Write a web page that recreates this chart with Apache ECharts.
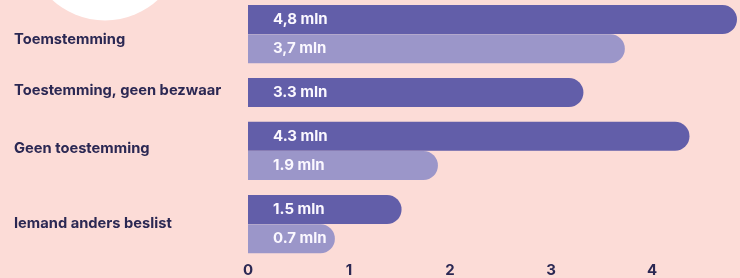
<!DOCTYPE html>
<html><head><meta charset="utf-8">
<script src="https://cdn.jsdelivr.net/npm/echarts@6/dist/echarts.min.js"></script>
<style>html,body{margin:0;padding:0;background:#fcdcd7;}#c{width:740px;height:278px;}</style>
</head><body><div id="c"></div>
<script>
// Data
const categories = ['Toemstemming', 'Toestemming, geen bezwaar', 'Geen toestemming', 'Iemand anders beslist'];
const darkValues = [4.84, 3.32, 4.37, 1.52];
const lightValues = [3.73, null, 1.88, 0.86];
const darkLabels = ['4,8 mln', '3.3 mln', '4.3 mln', '1.5 mln'];
const lightLabels = ['3,7 mln', null, '1.9 mln', '0.7 mln'];
const xTicks = [0, 1, 2, 3, 4];

// Layout: fine category slots so rows can be unevenly spaced
const SLOTS = 16;
const darkSlot = [0, 5, 8, 13];
const lightSlot = [2, null, 10, 15];
const labelSlot = [1, 5, 9, 14];
const labelStyle = ['dn', 'up', 'up', 'up2'];

const DARK = '#625ea9', LIGHT = '#9b96c9', INK = '#2b2853';
const slotNames = Array.from({length: SLOTS}, (_, i) => 's' + i);
const slotText = {};
categories.forEach((c, k) => { slotText[labelSlot[k]] = '{' + labelStyle[k] + '|' + c + '}'; });

const data = slotNames.map(() => '-');
categories.forEach((c, k) => {
  data[darkSlot[k]] = {value: darkValues[k], itemStyle: {color: DARK}, label: {formatter: darkLabels[k]}};
  if (lightValues[k] != null) data[lightSlot[k]] = {value: lightValues[k], itemStyle: {color: LIGHT}, label: {formatter: lightLabels[k]}};
});

const chart = echarts.init(document.getElementById('c'));
const lblFont = {fontFamily: 'Inter', fontWeight: 700, fontSize: 14.7, color: INK};
chart.setOption({
  backgroundColor: '#fcdcd7',
  animation: false,
  graphic: [{type: 'circle', shape: {cx: 105, cy: -57.5, r: 78}, style: {fill: '#ffffff'}, z: -1}],
  grid: {left: 248, top: 12.1, height: 236.5, right: 2},
  xAxis: {
    type: 'value', min: 0, max: 4.85, interval: 1,
    splitLine: {show: false}, axisLine: {show: false}, axisTick: {show: false},
    axisLabel: {margin: 17, fontFamily: 'Inter', fontWeight: 700, fontSize: 15, color: INK,
      showMaxLabel: false,
      formatter: v => xTicks.indexOf(v) >= 0 ? String(v) : ''}
  },
  yAxis: {
    type: 'category', inverse: true, data: slotNames,
    axisLine: {show: false}, axisTick: {show: false},
    axisLabel: {
      interval: 0, align: 'left', margin: 234,
      formatter: (v, i) => slotText[i] || '',
      rich: {
        dn: Object.assign({padding: [12, 0, 0, 0]}, lblFont),
        up: Object.assign({padding: [0, 0, 4, 0]}, lblFont),
        up2: Object.assign({padding: [0, 0, 1, 0]}, lblFont)
      }
    }
  },
  series: [{
    type: 'bar', data: data, barWidth: 29, clip: false,
    itemStyle: {borderRadius: [0, 15, 15, 0]},
    label: {show: true, position: 'insideLeft', distance: 25, color: '#fbf8ff',
      fontFamily: 'Inter', fontWeight: 700, fontSize: 15}
  }]
});
</script></body></html>
